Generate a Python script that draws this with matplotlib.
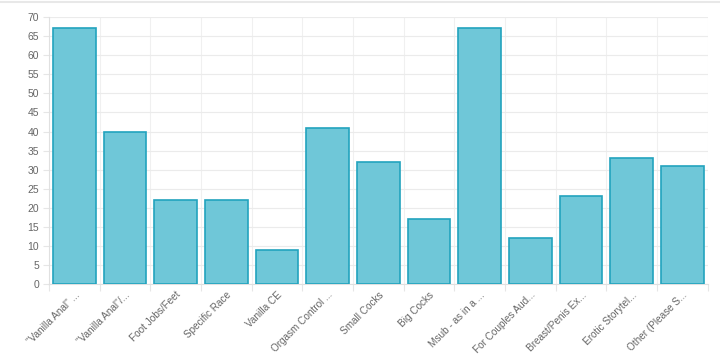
import numpy as np
import matplotlib as mpl
import matplotlib.pyplot as plt

mpl.rc('font', family=['Liberation Sans', 'DejaVu Sans'], size=7.5)

labels = ['"Vanilla Anal" ...', '"Vanilla Anal"/...', 'Foot Jobs/Feet', 'Specific Race',
          'Vanilla CE', 'Orgasm Control ...', 'Small Cocks', 'Big Cocks',
          'Msub - as in a ...', 'For Couples Aud...', 'Breast/Penis Ex...',
          'Erotic Storytel...', 'Other (Please S...']
values = [67, 40, 22, 22, 9, 41, 32, 17, 67, 12, 23, 33, 31]

fig = plt.figure(figsize=(7.2, 3.62), dpi=100)
ax = fig.add_axes([0.068, 0.215, 0.915, 0.738])

x = np.arange(len(labels))
ax.bar(x, values, width=0.84, color='#6fc7d8', edgecolor='#22a3be', linewidth=1.2, zorder=3)

ax.set_xlim(-0.5, len(labels) - 0.5)
ax.set_ylim(0, 70)
ax.set_yticks(np.arange(0, 71, 5))
ax.set_xticks(x)
ax.set_xticklabels(labels, rotation=45, ha='right', rotation_mode='anchor',
                   color='#666666', fontsize=7.2)
ax.set_xticks(np.arange(-0.5, len(labels), 1), minor=True)

ax.tick_params(axis='y', colors='#e6e6e6', labelcolor='#666666', length=4, width=0.8, pad=3)
ax.tick_params(axis='x', which='major', length=0, pad=4)
ax.tick_params(axis='x', which='minor', colors='#e6e6e6', length=5, width=0.8)

ax.grid(axis='y', color='#ebebeb', linewidth=0.8, zorder=0)
ax.grid(axis='x', which='minor', color='#f0f0f0', linewidth=0.8, zorder=0)
for s in ['top', 'right']:
    ax.spines[s].set_visible(False)
ax.spines['left'].set_color('#e0e0e0')
ax.spines['bottom'].set_color('#e0e0e0')

fig.add_artist(plt.Line2D([0, 1], [0.995, 0.995], color='#e8e8e8', linewidth=1.5))

plt.savefig('out.png', dpi=100)
